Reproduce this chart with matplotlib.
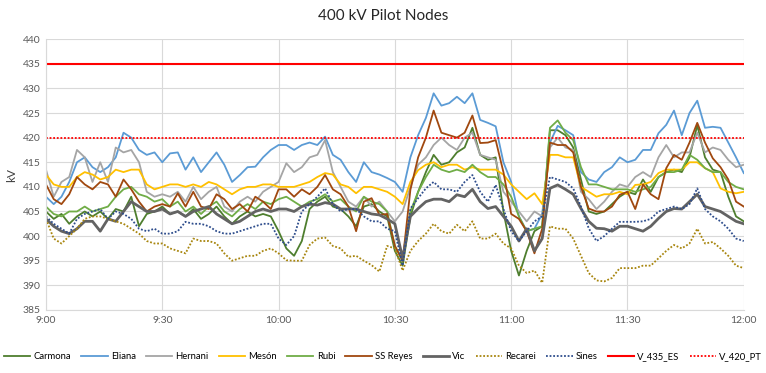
import matplotlib

matplotlib.use("Agg")

import matplotlib.pyplot as plt
import numpy as np

plt.rcParams["font.family"] = ["Lato", "DejaVu Sans"]

# sample times, minutes after 9:00, one every 2 minutes
minutes = np.arange(0, 181, 2)
tick_minutes = [0, 30, 60, 90, 120, 150, 180]
tick_labels = ["9:00", "9:30", "10:00", "10:30", "11:00", "11:30", "12:00"]

carmona = [405, 403.5, 404.5, 402.5, 404, 405, 404, 405, 403.5, 405.5,
           405, 408, 402, 404.5, 405, 406, 404.5, 405, 404, 405.5,
           403.5, 404.5, 406, 404, 402.5, 404, 405, 404, 404.5, 404,
           401, 397.5, 396, 399, 405.5, 407, 408, 406, 405.5, 404,
           402, 406, 406.5, 405, 404, 397, 394, 404, 409, 413,
           416.5, 414.5, 415, 417, 418, 422, 416.5, 415.5, 416, 405,
           397, 392, 397, 401, 402, 421.5, 421.5, 420.5, 418, 411.5,
           405, 404.5, 405, 406.5, 408, 409, 408.5, 411.5, 409, 412,
           413, 413.5, 413, 416, 422.5, 416, 413.5, 413, 408, 404,
           403]
eliana = [408, 406.5, 408, 411, 415, 416, 414, 413, 414, 416,
          421, 420, 417.5, 416.5, 417, 415, 416.8, 417, 413.5, 416,
          413, 415, 417, 414.5, 411, 412.4, 414, 414.1, 416, 417.5,
          418.5, 418.5, 417.5, 418.5, 419, 418.5, 420.2, 416.5, 415.5, 413,
          411, 415, 413, 412.5, 411.8, 411, 409, 416, 420.5, 424,
          429, 426.5, 427, 428.3, 427, 429, 423.6, 423, 422.3, 415,
          411, 404, 401, 401.5, 404.5, 419, 422.4, 421.5, 420.5, 413,
          411.5, 411, 413, 414, 416, 415, 415.5, 417.5, 417.5, 420.9,
          422.6, 425.5, 420.5, 425, 427.5, 422, 422.2, 422, 419, 416,
          412.8]
hernani = [413.5, 408, 411, 412, 417.5, 416, 411, 415, 411, 418,
           417, 417.5, 415, 409, 408, 408.5, 408, 409, 407, 410,
           407.5, 409, 410, 406, 405, 407, 408, 407, 409, 410,
           411, 414.8, 413, 414, 416, 416.5, 419.5, 413, 410, 407,
           406, 408, 406, 407, 405, 403, 405, 410, 414.5, 416,
           418.5, 420, 418.5, 417.5, 420, 421, 416.5, 416, 415.5, 409,
           407, 405, 403, 405, 404, 418, 420, 418, 417.5, 409,
           407.5, 405.5, 407, 409, 410.5, 410, 412, 413, 412, 416,
           418.5, 416, 417, 417, 421, 417, 418, 417.5, 415.5, 414,
           414.5]
meson = [412.5, 410.5, 410, 410, 412, 413, 412.5, 411.5, 412, 413.5,
         413, 413.5, 413.5, 410.5, 409.5, 410, 410.5, 410.5, 410, 410.5,
         410, 411, 410.5, 409.5, 408.5, 409.5, 410, 410, 410.5, 410.5,
         410, 410, 410, 410.5, 411, 412, 412.8, 412.5, 410.5, 410,
         408.7, 410, 410, 409.5, 409, 408, 406.5, 411, 413.4, 414.5,
         415, 414, 414.5, 414.5, 413.5, 414, 413.5, 413.5, 413.5, 412.5,
         410.5, 409, 407.5, 408.7, 406.5, 416.5, 416.5, 416, 416, 410,
         409, 408, 408.5, 408.5, 409, 408.5, 410.4, 410.5, 411, 412.8,
         413.5, 413.5, 413.5, 415, 415, 413.8, 413, 409.7, 409, 408.7,
         409]
rubi = [406, 404.5, 404, 405, 405, 406, 405, 405.5, 406, 408,
        409.5, 410, 408.5, 408, 407, 407.5, 406, 407, 405, 406,
        404.5, 406, 407, 405, 404, 405.5, 406.5, 405.5, 407, 406.5,
        407.5, 408, 407, 406, 407, 407.5, 408.5, 407, 407.5, 406,
        405, 408, 407, 406.5, 405, 398, 395, 405, 409, 412,
        414.5, 413.5, 413, 413.5, 413, 414.5, 413, 412, 412, 410.5,
        408, 404, 401, 401.5, 402, 422, 423.5, 421, 419.5, 414,
        410.5, 410.5, 410, 409.5, 409.5, 409.5, 409, 409.5, 410, 412,
        413, 413, 413.5, 416.5, 415.5, 413.8, 413, 413, 411, 410,
        409.5]
ss_reyes = [410.5, 407.5, 406.5, 408.5, 412, 410.5, 409.5, 411, 410.5, 408,
            411.5, 409.5, 407, 405, 406, 406.5, 406, 408.7, 406, 409,
            406, 405.5, 408.5, 407.5, 405.5, 406.5, 405, 408, 407, 405.5,
            409.5, 409.5, 408, 409.5, 408.5, 410, 412.4, 409.5, 408.5, 406,
            401, 407, 407.7, 404.3, 404.5, 398, 395, 409.4, 416, 420,
            425.5, 421, 420.5, 420, 421, 424.5, 418.9, 419, 419.5, 413,
            404.5, 403.5, 401, 396.5, 401.5, 419, 418.5, 418.5, 417, 410,
            405.6, 405, 405, 406, 408.4, 409, 405.5, 410.5, 408.5, 407.5,
            413.8, 416.5, 415.5, 419, 423, 419, 415.8, 414, 411.5, 407,
            406]
vic = [403.5, 402, 401, 400.5, 401.5, 403, 403, 401, 403.5, 403,
       405, 407, 406, 405, 405, 405.5, 404.5, 405, 404, 405,
       405.5, 406, 404.5, 403.5, 402.5, 403, 404, 405, 405.5, 405,
       405.5, 405.5, 405, 406, 406.5, 406.3, 406.8, 406.5, 405.5, 405.5,
       405.5, 405, 404.5, 404.3, 403.5, 402.5, 395.5, 404, 405.6, 407,
       407.5, 407.5, 407, 408.4, 408, 409.5, 407, 405.6, 406, 404,
       402, 399, 401.5, 397, 399.5, 409.7, 410.4, 409.5, 408.5, 405.6,
       403, 401.6, 401.5, 401, 402, 402, 401.5, 401, 402, 403.6,
       405, 405.6, 405.5, 407, 408.5, 406, 405.5, 405, 404, 403,
       402.5]
recarei = [403.5, 399.5, 398.5, 400, 401.5, 403.5, 404, 404, 403.5, 403,
           402.5, 401.5, 400.5, 399, 398.5, 398.5, 397.5, 397, 396.5, 399.5,
           399, 399, 398.5, 396.5, 395, 395.5, 396, 396, 397, 397.5,
           396.5, 395.1, 395, 395, 398.2, 399.5, 399.7, 398, 397.5, 395.8,
           396, 395, 394.1, 392.8, 398, 397.5, 393, 397, 399, 400.5,
           402.5, 401, 400.5, 402.3, 401, 403, 399.5, 399.5, 400.5, 398.5,
           397.5, 394, 392.5, 393, 390.5, 402, 401.5, 401.5, 399.5, 396,
           392.5, 391, 390.8, 391.5, 393.5, 393.5, 393.5, 394, 394, 395.5,
           397, 398.2, 397.5, 398.5, 401.5, 398.5, 398.8, 397.5, 396, 394,
           393.5]
sines = [404, 402.5, 401.5, 400.5, 403.5, 404.5, 405, 405.5, 403.5, 405,
         404.5, 403.5, 401.5, 401, 401.5, 400.5, 400.5, 401, 402.9, 402.5,
         402.5, 402, 401, 400.5, 400.5, 401, 401.5, 402, 402.5, 402.5,
         399.5, 398.2, 400, 405, 406.5, 408, 409.7, 406.5, 405, 405.5,
         405.5, 404, 403, 403, 401.5, 401, 394, 405.6, 407.7, 409.7,
         411, 409.5, 409.5, 409, 411, 412.4, 409, 407, 410.4, 405.5,
         401, 399, 401, 403, 404, 412, 411.5, 411, 409.7, 406,
         401.6, 399, 400, 401.5, 402.9, 402.9, 402.9, 403, 403.5, 405,
         405.5, 406, 405.5, 406.5, 409.7, 405.5, 404, 403, 401.5, 399.5,
         399]
limit_es = 435
limit_pt = 420

dots = (0, (1, 1))
series = [
    ("Carmona", carmona, "#4E7E2E", "-", 1.3),
    ("Eliana", eliana, "#5B9BD5", "-", 1.3),
    ("Hernani", hernani, "#A5A5A5", "-", 1.3),
    ("Mesón", meson, "#FFC000", "-", 1.3),
    ("Rubi", rubi, "#70AD47", "-", 1.3),
    ("SS Reyes", ss_reyes, "#A0480F", "-", 1.3),
    ("Vic", vic, "#636363", "-", 2.0),
    ("Recarei", recarei, "#A8860F", dots, 1.3),
    ("Sines", sines, "#2E4D8C", dots, 1.3),
]

fig = plt.figure(figsize=(7.66, 3.73), dpi=100)
ax = fig.add_axes([0.060, 0.169, 0.911, 0.726])

for name, values, color, style, width in series:
    ax.plot(minutes, values, color=color, linestyle=style, linewidth=width, label=name)

ax.axhline(limit_es, color="#FF0000", linewidth=1.5, label="V_435_ES")
ax.axhline(limit_pt, color="#FF0000", linewidth=1.3, linestyle=dots, label="V_420_PT")

ax.set_xlim(0, 180)
ax.set_ylim(385, 440)
ax.set_xticks(tick_minutes)
ax.set_xticklabels(tick_labels)
ax.set_yticks(np.arange(385, 441, 5))
ax.tick_params(labelsize=7.5, colors="#595959", length=0, pad=4)
ax.grid(True, color="#D9D9D9", linewidth=0.8)
ax.set_axisbelow(True)
for side in ["top", "right"]:
    ax.spines[side].set_visible(False)
for side in ["left", "bottom"]:
    ax.spines[side].set_color("#D9D9D9")
ax.set_ylabel("kV", fontsize=8.5, color="#404040", labelpad=4)

fig.suptitle("400 kV Pilot Nodes", y=0.975, fontsize=11, color="#262626")

fig.legend(loc="center", bbox_to_anchor=(0.5, 0.043), ncol=11, frameon=False,
           fontsize=6.8, handlelength=2.8, handletextpad=0.35, columnspacing=1.05,
           borderpad=0.2)

fig.savefig("out.png", dpi=100)
